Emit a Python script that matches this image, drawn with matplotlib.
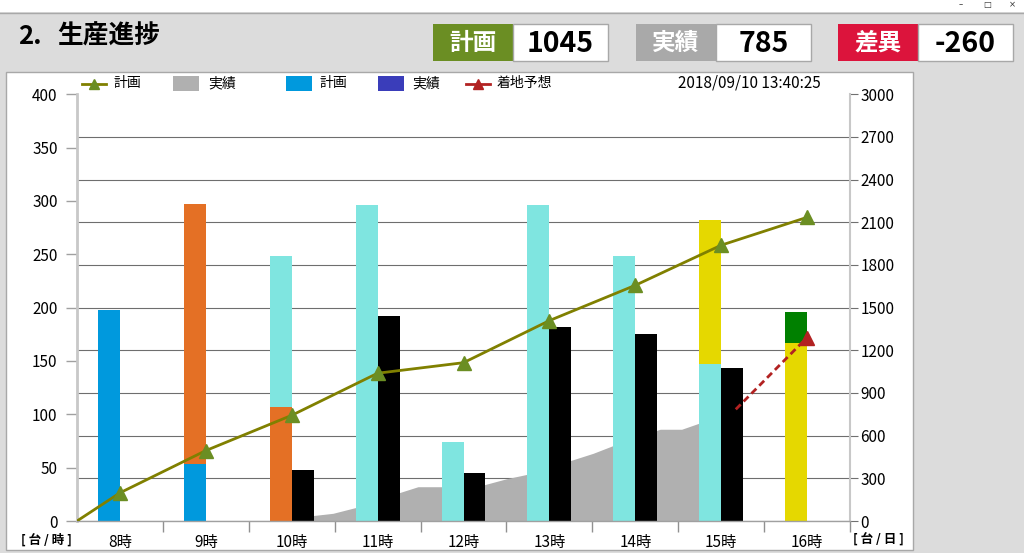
import numpy as np
import matplotlib
matplotlib.use('Agg')
import matplotlib.pyplot as plt
from matplotlib.patches import Rectangle
from matplotlib.lines import Line2D

plt.rcParams['font.family'] = ['Noto Sans CJK JP', 'DejaVu Sans']

# data
hours = ['8時', '9時', '10時', '11時', '12時', '13時', '14時', '15時', '16時']
plan_blue = [198, 53, 0, 0, 0, 0, 0, 0, 0]
plan_orange = [0, 244, 107, 0, 0, 0, 0, 0, 0]
plan_cyan = [0, 0, 141, 296, 74, 296, 248, 147, 0]
plan_yellow = [0, 0, 0, 0, 0, 0, 0, 135, 167]
plan_green = [0, 0, 0, 0, 0, 0, 0, 0, 29]
actual = [0, 0, 48, 192, 45, 182, 175, 143, 0]

# cumulative plan (right axis), first point is the start of the day
plan_cum_x = [-0.5, 0, 1, 2, 3, 4, 5, 6, 7, 8]
plan_cum = [0, 198, 495, 743, 1039, 1113, 1409, 1657, 1939, 2135]

# cumulative actual (right axis, gray area)
gray_x = [1.76, 2.0, 2.23, 2.48, 2.74, 3.0, 3.23, 3.47, 3.74, 4.0, 4.23, 4.5,
          4.74, 5.0, 5.23, 5.51, 5.74, 6.0, 6.24, 6.29, 6.54, 6.74, 7.0, 7.17]
gray_v = [0, 20, 37, 54, 94, 150, 195, 241, 241, 248, 253, 297,
          328, 375, 422, 476, 530, 585, 635, 645, 645, 687, 740, 785]

# landing forecast
fc_x = [7.17, 8]
fc_v = [785, 1290]

header_plan, header_actual, header_diff = 1045, 785, -260
timestamp = '2018/09/10 13:40:25'

W, H = 1024, 553
fig = plt.figure(figsize=(W / 100, H / 100), dpi=100, facecolor='#DCDCDC')


def box(x1, y1, x2, y2, fc, ec='none', lw=1):
    fig.add_artist(Rectangle((x1 / W, 1 - y2 / H), (x2 - x1) / W, (y2 - y1) / H,
                             transform=fig.transFigure, facecolor=fc,
                             edgecolor=ec, linewidth=lw))


def ftext(x, y, s, **kw):
    fig.text(x / W, 1 - y / H, s, **kw)


# window strip and panels
box(0, 0, 1024, 12, 'white')
fig.add_artist(Line2D([0, 1], [1 - 12.5 / H] * 2, color='#A8A8A8', lw=1))
for gx, g in [(961, '–'), (987, '□'), (1012, '×')]:
    ftext(gx, 5, g, fontsize=6, ha='center', va='center', color='#333333',
          family='DejaVu Sans')
box(6, 72, 913, 550, 'white', '#A8A8A8', 1)

ftext(18, 36, '2.', fontsize=18.5, fontweight='bold', va='center')
ftext(57, 36, '生産進捗', fontsize=18.5, fontweight='bold', va='center')

# header summary boxes
for (lx1, lx2, vx2, lab, val, col) in [
        (433, 513, 608, '計画', header_plan, '#6B8E23'),
        (636, 716, 811, '実績', header_actual, '#A9A9A9'),
        (838, 918, 1013, '差異', header_diff, '#DC143C')]:
    box(lx1, 24, lx2, 61, col)
    box(lx2, 24, vx2, 61, 'white', '#A8A8A8', 1)
    ftext((lx1 + lx2) / 2, 43, lab, fontsize=17, fontweight='bold',
          color='white', ha='center', va='center')
    ftext((lx2 + vx2) / 2, 44, str(val), fontsize=20.5, fontweight='bold',
          color='black', ha='center', va='center')

# axes: axr = right axis (grid, gray area), ax = bars, axl = lines on top
ax = fig.add_axes([77 / W, (H - 521) / H, (850 - 77) / W, (521 - 94.3) / H])
axr = ax.twinx()
axl = ax.twinx()
axr.set_zorder(1)
ax.set_zorder(2)
axl.set_zorder(3)
ax.patch.set_visible(False)
axl.patch.set_visible(False)

x = np.arange(len(hours))
bw = 0.255

bottom = np.zeros(len(hours))
for vals, col in [(plan_blue, '#0099DD'), (plan_orange, '#E47025'),
                  (plan_cyan, '#7FE5E0'), (plan_yellow, '#E5D800'),
                  (plan_green, '#008000')]:
    ax.bar(x - bw / 2, vals, bw, bottom=bottom, color=col, linewidth=0)
    bottom += np.array(vals)
ax.bar(x + bw / 2, actual, bw, color='black', linewidth=0)

axr.fill_between(gray_x, gray_v, 0, color='#B0B0B0', linewidth=0, zorder=2)

axl.plot(plan_cum_x, plan_cum, color='#808000', lw=2, marker='^',
         markersize=10, markerfacecolor='#6B8E23', markeredgecolor='#6B8E23',
         markevery=list(range(1, len(plan_cum))))
axl.plot(fc_x, fc_v, color='#B22222', lw=2, ls=(0, (2.5, 1.5)), marker='^',
         markersize=10, markevery=[1], markerfacecolor='#B22222',
         markeredgecolor='#B22222')

ax.set_xlim(-0.5, 8.5)
ax.set_ylim(0, 400)
axr.set_ylim(0, 3000)
axl.set_ylim(0, 3000)

ax.set_yticks(np.arange(0, 401, 50))
axr.set_yticks(np.arange(0, 3001, 300))
ax.set_xticks(x)
ax.set_xticklabels(hours)
ax.set_xticks(np.arange(0.5, 9, 1), minor=True)
ax.tick_params(axis='x', which='major', length=0, pad=9, labelsize=11)
ax.tick_params(axis='x', which='minor', length=8, color='#909090', width=1)
ax.tick_params(axis='y', length=8, color='#A0A0A0', width=1, pad=6,
               labelsize=11)
axr.tick_params(axis='y', length=6, color='#707070', width=0.8, pad=1.5,
                labelsize=11)
axl.set_yticks([])

axr.yaxis.grid(True, color='#6E6E6E', lw=0.8)
axr.set_axisbelow(True)
axr.yaxis.get_gridlines()[-1].set_visible(False)

for a in (ax, axr, axl):
    for s in a.spines.values():
        s.set_visible(False)
ax.spines['left'].set_visible(True)
ax.spines['left'].set_color('#C8C8C8')
ax.spines['left'].set_linewidth(2)
ax.spines['bottom'].set_visible(True)
ax.spines['bottom'].set_color('#A0A0A0')
ax.spines['bottom'].set_linewidth(1)
axr.spines['right'].set_visible(True)
axr.spines['right'].set_color('#C8C8C8')
axr.spines['right'].set_linewidth(1.5)

ftext(46, 540, '[ 台 / 時 ]', fontsize=9, fontweight='bold', ha='center',
      va='center')
ftext(878, 540, '[ 台 / 日 ]', fontsize=9, fontweight='bold', ha='center',
      va='center')

# legend row
ly = 83.5
fig.add_artist(Line2D([82 / W, 106 / W], [1 - ly / H] * 2, color='#808000',
                      lw=2, transform=fig.transFigure))
fig.add_artist(Line2D([94 / W], [1 - ly / H], marker='^', markersize=7,
                      color='#6B8E23', transform=fig.transFigure))
ftext(113, ly, '計画', fontsize=10, va='center')
box(173, 76, 199, 91, '#B0B0B0')
ftext(208, ly, '実績', fontsize=10, va='center')
box(286, 76, 312, 91, '#0099DD')
ftext(320, ly, '計画', fontsize=10, va='center')
box(378, 76, 404, 91, '#3A3DBA')
ftext(412, ly, '実績', fontsize=10, va='center')
fig.add_artist(Line2D([466 / W, 490 / W], [1 - ly / H] * 2, color='#B22222',
                      lw=2, transform=fig.transFigure))
fig.add_artist(Line2D([478 / W], [1 - ly / H], marker='^', markersize=7,
                      color='#B22222', transform=fig.transFigure))
ftext(497, ly, '着地予想', fontsize=10, va='center')
ftext(678, ly, timestamp, fontsize=11, va='center')

fig.savefig('out.png', dpi=100, facecolor=fig.get_facecolor())
